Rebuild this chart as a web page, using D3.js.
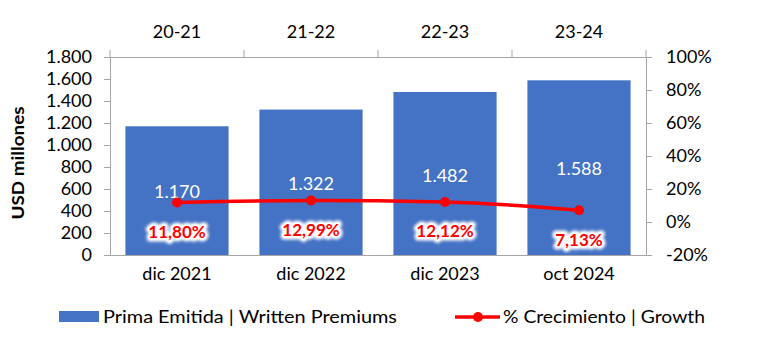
<!DOCTYPE html>
<html><head><meta charset="utf-8">
<script src="https://cdn.jsdelivr.net/npm/d3@7"></script>
<style>body{margin:0;background:#fff}svg{display:block}text{font-family:Lato,"Open Sans",sans-serif}</style>
</head><body><svg id="c" width="757" height="345"></svg>
<script>
const categories = ["dic 2021","dic 2022","dic 2023","oct 2024"];
const periods = ["20-21","21-22","22-23","23-24"];
const premiums = [1170,1322,1482,1588];
const growth = [11.80,12.99,12.12,7.13];
const leftTicks = [0,200,400,600,800,1000,1200,1400,1600,1800];
const rightTicks = [-20,0,20,40,60,80,100];
const seriesNames = ["Prima Emitida | Written Premiums","% Crecimiento | Growth"];

const svg = d3.select("#c");
const L=110,R=646,T=57,B=255;
const blue="#4472C4", red="#FF0000", axisCol="#a6a6a6";
const x = d3.scaleBand().domain(categories).range([L,R]).paddingInner(0.23).paddingOuter(0.115);
const xb = d3.scaleBand().domain(categories).range([L,R]);
const y = d3.scaleLinear().domain([0,1800]).range([B,T]);
const y2 = d3.scaleLinear().domain([-20,100]).range([B,T]);
const fmtN = d3.formatLocale({decimal:",",thousands:".",grouping:[3],currency:["",""]});
const f0 = fmtN.format(",.0f"), f2 = fmtN.format(".2f");

const defs = svg.append("defs");
const flt = defs.append("filter").attr("id","glow").attr("x","-20%").attr("y","-40%").attr("width","140%").attr("height","180%");
flt.append("feGaussianBlur").attr("stdDeviation",1.6);

// bars
svg.selectAll("rect.bar").data(premiums).join("rect").attr("class","bar")
  .attr("x",(d,i)=>x(categories[i])).attr("width",x.bandwidth())
  .attr("y",d=>y(d)).attr("height",d=>B-y(d)).attr("fill",blue);

// axes
const ax = d3.axisLeft(y).tickValues(leftTicks).tickSize(6).tickPadding(12).tickFormat(d=>f0(d));
const gL = svg.append("g").attr("transform",`translate(${L},0)`).call(ax);
const ar = d3.axisRight(y2).tickValues(rightTicks).tickSize(6).tickPadding(14).tickFormat(d=>d+"%");
const gR = svg.append("g").attr("transform",`translate(${R},0)`).call(ar);
const ab = d3.axisBottom(xb).tickSize(0).tickPadding(12);
const gB = svg.append("g").attr("transform",`translate(0,${B})`).call(ab);
const at = d3.axisTop(xb).tickSize(0).tickPadding(19).tickFormat((d,i)=>periods[i]);
const gT = svg.append("g").attr("transform",`translate(0,${T})`).call(at);
[gL,gR,gB,gT].forEach(g=>{
  g.selectAll("path.domain").attr("stroke",axisCol).attr("stroke-width",1);
  g.selectAll("line").attr("stroke",axisCol);
  g.selectAll("text").attr("fill","#000").style("font-size","18px").style("font-family","Lato, sans-serif");
});
gB.select("path.domain").attr("d",`M${L},0.5H${R}`);
gT.select("path.domain").attr("d",`M${L},0.5H${R}`);
// top boundary ticks
svg.append("g").selectAll("line").data(d3.range(categories.length+1)).join("line")
  .attr("x1",i=>L+i*xb.step()).attr("x2",i=>L+i*xb.step()).attr("y1",T-7).attr("y2",T)
  .attr("stroke",axisCol);

// value labels
svg.selectAll("text.val").data(premiums).join("text").attr("class","val")
  .attr("x",(d,i)=>x(categories[i])+x.bandwidth()/2).attr("y",(d,i)=>[198,190,182,175][i])
  .attr("text-anchor","middle").attr("fill","#fff").style("font-size","18px").text(d=>f0(d));

// line
const line = d3.line().x((d,i)=>xb(categories[i])+xb.bandwidth()/2).y(d=>y2(d)).curve(d3.curveMonotoneX);
svg.append("path").datum(growth).attr("d",line).attr("fill","none").attr("stroke",red).attr("stroke-width",3.5);
svg.selectAll("circle.pt").data(growth).join("circle").attr("class","pt")
  .attr("cx",(d,i)=>xb(categories[i])+xb.bandwidth()/2).attr("cy",d=>y2(d)).attr("r",5).attr("fill",red);

// growth labels
const gl = svg.append("g").selectAll("g").data(growth).join("g")
  .attr("transform",(d,i)=>`translate(${xb(categories[i])+xb.bandwidth()/2},${[238,236,237,246][i]})`);
gl.append("text").attr("text-anchor","middle").attr("fill","#fff").attr("stroke","#fff").attr("stroke-width",7)
  .attr("stroke-linejoin","round").attr("filter","url(#glow)")
  .style("font-size","17px").style("font-weight","bold").text(d=>f2(d)+"%");
gl.append("text").attr("text-anchor","middle").attr("fill","#fff").attr("stroke","#fff").attr("stroke-width",3)
  .attr("stroke-linejoin","round")
  .style("font-size","17px").style("font-weight","bold").text(d=>f2(d)+"%");
gl.append("text").attr("text-anchor","middle").attr("fill",red)
  .style("font-size","17px").style("font-weight","bold").text(d=>f2(d)+"%");

// y title
svg.append("text").attr("transform","translate(24,163) rotate(-90)").attr("text-anchor","middle")
  .attr("textLength",113).attr("lengthAdjust","spacingAndGlyphs")
  .style("font-size","17px").style("font-weight","bold").text("USD millones");

// legend
const lg = svg.append("g");
lg.append("rect").attr("x",59).attr("y",311).attr("width",40).attr("height",11).attr("fill",blue);
lg.append("text").attr("x",103).attr("y",323).attr("textLength",294).attr("lengthAdjust","spacingAndGlyphs")
  .style("font-size","18px").text(seriesNames[0]);
lg.append("line").attr("x1",455).attr("x2",500).attr("y1",317).attr("y2",317).attr("stroke",red).attr("stroke-width",3.5);
lg.append("circle").attr("cx",478).attr("cy",317).attr("r",5).attr("fill",red);
lg.append("text").attr("x",503).attr("y",323).attr("textLength",202).attr("lengthAdjust","spacingAndGlyphs")
  .style("font-size","18px").text(seriesNames[1]);
</script></body></html>
